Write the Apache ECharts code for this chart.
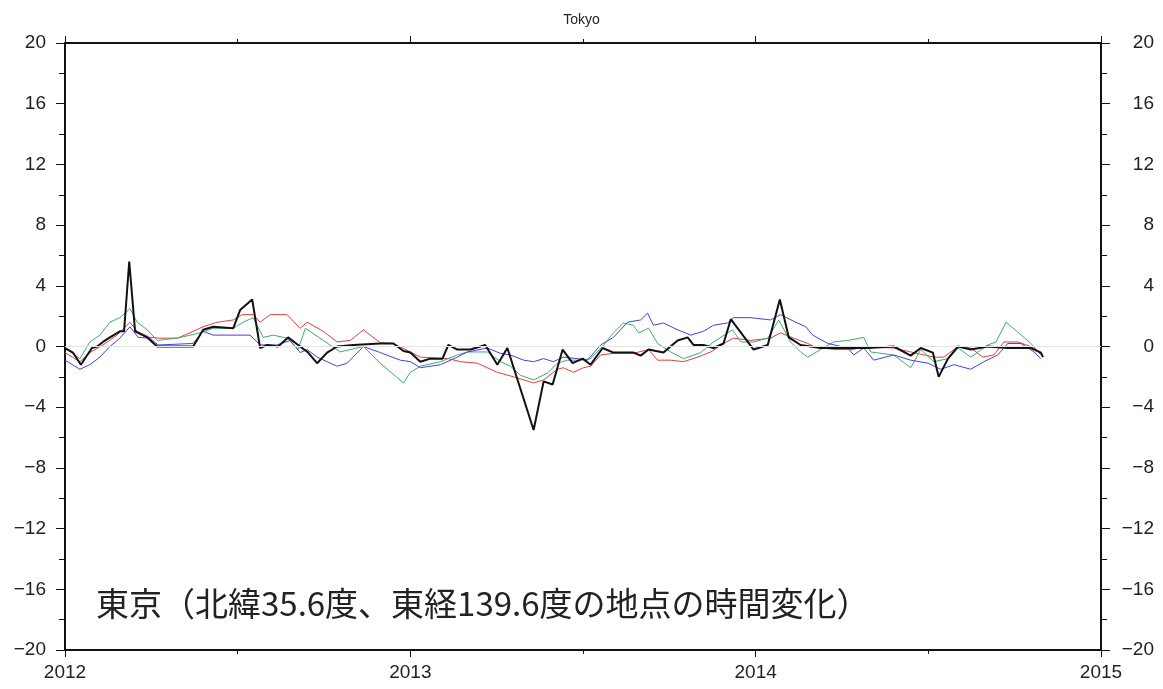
<!DOCTYPE html>
<html>
<head>
<meta charset="utf-8">
<title>Tokyo</title>
<script src="https://cdn.jsdelivr.net/npm/echarts@6/dist/echarts.min.js"></script>
<style>
  html, body { margin: 0; padding: 0; background: #fff; }
  #chart { width: 1163px; height: 689px; }
</style>
</head>
<body>
<div id="chart"></div>
<script>
'use strict';

// x = decimal year, y = value
var redPts = [[2012.000,-0.4],[2012.043,-1.0],[2012.072,-0.4],[2012.110,0.1],[2012.151,0.75],[2012.188,1.6],[2012.209,1.0],[2012.246,0.6],[2012.275,0.55],[2012.325,0.55],[2012.362,0.9],[2012.400,1.3],[2012.441,1.6],[2012.487,1.75],[2012.513,2.1],[2012.545,2.1],[2012.565,1.6],[2012.594,2.1],[2012.643,2.1],[2012.681,1.2],[2012.701,1.6],[2012.748,1.0],[2012.788,0.3],[2012.826,0.4],[2012.864,1.1],[2012.913,0.25],[2012.951,0.2],[2013.000,-0.36],[2013.029,-0.7],[2013.110,-0.8],[2013.145,-1.0],[2013.194,-1.1],[2013.252,-1.7],[2013.299,-2.0],[2013.357,-2.4],[2013.386,-2.2],[2013.426,-1.5],[2013.443,-1.4],[2013.472,-1.7],[2013.501,-1.4],[2013.522,-1.3],[2013.551,-0.56],[2013.588,-0.45],[2013.646,-0.45],[2013.690,-0.2],[2013.716,-0.9],[2013.754,-0.9],[2013.791,-1.0],[2013.832,-0.7],[2013.870,-0.36],[2013.907,0.2],[2013.936,0.55],[2013.986,0.4],[2014.043,0.55],[2014.072,0.9],[2014.110,0.55],[2014.151,0.2],[2014.168,0.0],[2014.226,-0.2],[2014.284,-0.2],[2014.304,0.0],[2014.400,-0.1],[2014.449,-0.36],[2014.516,-0.7],[2014.545,-0.7],[2014.586,0.0],[2014.623,-0.1],[2014.658,-0.7],[2014.690,-0.56],[2014.719,0.3],[2014.759,0.3],[2014.797,0.0],[2014.826,-0.4]];

var greenPts = [[2012.000,-0.1],[2012.043,-0.8],[2012.072,0.3],[2012.101,0.75],[2012.130,1.6],[2012.159,1.9],[2012.188,2.5],[2012.209,1.6],[2012.238,1.1],[2012.267,0.4],[2012.325,0.55],[2012.391,0.9],[2012.429,1.2],[2012.487,1.2],[2012.516,1.6],[2012.545,1.9],[2012.574,0.6],[2012.603,0.75],[2012.643,0.55],[2012.675,-0.2],[2012.696,1.2],[2012.748,0.4],[2012.797,-0.36],[2012.864,0.0],[2012.913,-1.1],[2012.980,-2.4],[2013.000,-1.7],[2013.029,-1.3],[2013.087,-1.0],[2013.136,-0.56],[2013.165,-0.36],[2013.223,-0.36],[2013.261,-1.0],[2013.290,-1.3],[2013.319,-1.9],[2013.357,-2.2],[2013.397,-1.75],[2013.426,-1.1],[2013.455,-0.9],[2013.493,-0.9],[2013.522,-0.8],[2013.557,0.0],[2013.588,0.9],[2013.617,1.55],[2013.646,1.4],[2013.661,0.9],[2013.690,1.2],[2013.716,0.2],[2013.754,-0.36],[2013.791,-0.8],[2013.841,-0.4],[2013.878,0.3],[2013.933,1.1],[2013.957,0.3],[2013.994,0.3],[2014.035,0.55],[2014.067,1.75],[2014.101,0.3],[2014.130,-0.36],[2014.151,-0.7],[2014.188,-0.2],[2014.226,0.3],[2014.267,0.4],[2014.313,0.6],[2014.333,-0.36],[2014.400,-0.56],[2014.449,-1.4],[2014.478,-0.2],[2014.516,-1.0],[2014.557,-0.8],[2014.586,-0.1],[2014.623,-0.7],[2014.672,0.1],[2014.696,0.3],[2014.725,1.6],[2014.759,0.95],[2014.797,0.2],[2014.826,-0.56]];

var bluePts = [[2012.000,-0.9],[2012.043,-1.5],[2012.072,-1.2],[2012.101,-0.7],[2012.130,0.0],[2012.159,0.55],[2012.188,1.3],[2012.212,0.6],[2012.246,0.55],[2012.270,0.1],[2012.371,0.2],[2012.400,1.0],[2012.429,0.75],[2012.536,0.75],[2012.565,0.1],[2012.614,0.1],[2012.652,0.4],[2012.681,-0.4],[2012.701,-0.2],[2012.730,-0.7],[2012.788,-1.3],[2012.817,-1.1],[2012.864,0.0],[2012.913,-0.4],[2012.971,-0.9],[2013.000,-1.0],[2013.029,-1.4],[2013.087,-1.2],[2013.136,-0.7],[2013.165,-0.36],[2013.223,-0.1],[2013.261,-0.45],[2013.290,-0.56],[2013.328,-0.9],[2013.357,-1.0],[2013.386,-0.8],[2013.414,-1.0],[2013.443,-0.7],[2013.484,-0.8],[2013.513,-0.9],[2013.551,0.1],[2013.588,0.6],[2013.629,1.6],[2013.667,1.75],[2013.687,2.2],[2013.704,1.4],[2013.733,1.55],[2013.774,1.1],[2013.812,0.75],[2013.849,1.0],[2013.878,1.4],[2013.919,1.55],[2013.936,1.9],[2013.986,1.9],[2014.043,1.75],[2014.072,2.1],[2014.116,1.6],[2014.145,1.3],[2014.165,0.75],[2014.209,0.2],[2014.267,-0.1],[2014.284,-0.56],[2014.313,-0.1],[2014.342,-0.9],[2014.400,-0.56],[2014.449,-0.9],[2014.499,-1.1],[2014.536,-1.5],[2014.574,-1.2],[2014.623,-1.5],[2014.661,-1.0],[2014.701,-0.56],[2014.730,0.2],[2014.768,0.2],[2014.806,-0.36],[2014.826,-0.8]];

var blackPts = [[2012.000,-0.1],[2012.023,-0.4],[2012.046,-1.2],[2012.078,-0.1],[2012.093,0.0],[2012.110,0.3],[2012.130,0.6],[2012.159,1.0],[2012.171,1.0],[2012.186,5.6],[2012.203,1.0],[2012.238,0.6],[2012.267,0.0],[2012.371,0.0],[2012.400,1.1],[2012.429,1.3],[2012.487,1.2],[2012.507,2.4],[2012.542,3.1],[2012.565,-0.1],[2012.586,0.1],[2012.617,0.0],[2012.646,0.6],[2012.681,0.0],[2012.704,-0.4],[2012.730,-1.1],[2012.759,-0.4],[2012.788,0.0],[2012.835,0.1],[2012.913,0.2],[2012.951,0.2],[2012.980,-0.3],[2013.000,-0.4],[2013.029,-1.0],[2013.058,-0.8],[2013.093,-0.8],[2013.110,0.1],[2013.136,-0.2],[2013.174,-0.2],[2013.217,0.1],[2013.252,-1.2],[2013.281,-0.1],[2013.357,-5.5],[2013.386,-2.3],[2013.412,-2.5],[2013.441,-0.2],[2013.470,-1.1],[2013.499,-0.8],[2013.522,-1.2],[2013.557,-0.1],[2013.588,-0.4],[2013.646,-0.4],[2013.667,-0.6],[2013.690,-0.2],[2013.733,-0.4],[2013.774,0.4],[2013.803,0.6],[2013.820,0.1],[2013.849,0.1],[2013.878,-0.1],[2013.907,0.2],[2013.928,1.8],[2013.994,-0.2],[2014.035,0.1],[2014.070,3.1],[2014.096,0.6],[2014.130,0.1],[2014.188,-0.1],[2014.246,-0.1],[2014.325,-0.1],[2014.400,0.0],[2014.449,-0.6],[2014.478,-0.1],[2014.513,-0.4],[2014.530,-2.0],[2014.557,-0.8],[2014.586,0.0],[2014.623,-0.2],[2014.672,0.0],[2014.730,-0.1],[2014.797,-0.1],[2014.826,-0.4],[2014.832,-0.7]];

var yearTicks = [2012, 2013, 2014, 2015];
var yTicks = [-20, -16, -12, -8, -4, 0, 4, 8, 12, 16, 20];

var chartTitle = 'Tokyo';
var note = '東京（北緯35.6度、東経139.6度の地点の時間変化）';

var baseFont = 'Liberation Sans, Arial, sans-serif';

function yLabel(v) {
  return String(v).replace('-', '\u2212');
}

var xCommon = {
  type: 'value',
  min: yearTicks[0],
  max: yearTicks[yearTicks.length - 1],
  interval: 1,
  axisLine: { show: true, onZero: false, lineStyle: { color: '#111', width: 2 } },
  axisTick: { show: true, inside: false, length: 7, lineStyle: { color: '#111', width: 1 } },
  minorTick: { show: true, splitNumber: 2, length: 4, lineStyle: { color: '#111', width: 1 } },
  splitLine: { show: false }
};

var yCommon = {
  type: 'value',
  min: yTicks[0],
  max: yTicks[yTicks.length - 1],
  interval: 4,
  axisLine: { show: true, onZero: false, lineStyle: { color: '#111', width: 2 } },
  axisTick: { show: true, inside: false, length: 9, lineStyle: { color: '#111', width: 1 } },
  minorTick: { show: true, splitNumber: 2, length: 6, lineStyle: { color: '#111', width: 1 } },
  splitLine: { show: false }
};

var option = {
  animation: false,
  backgroundColor: '#fff',
  title: {
    text: chartTitle,
    left: 'center',
    top: 8,
    textStyle: { fontSize: 14, fontWeight: 'normal', color: '#222', fontFamily: baseFont }
  },
  grid: { left: 65, right: 62, top: 43, bottom: 39 },
  xAxis: [
    Object.assign({}, xCommon, {
      position: 'bottom',
      axisLabel: {
        show: true, margin: 13, fontSize: 19, color: '#222', fontFamily: baseFont,
        formatter: function (v) { return String(v); }
      }
    }),
    Object.assign({}, xCommon, {
      position: 'top',
      axisLabel: { show: false }
    })
  ],
  yAxis: [
    Object.assign({}, yCommon, {
      position: 'left',
      axisLabel: { show: true, margin: 19, fontSize: 19, color: '#222', fontFamily: baseFont, formatter: yLabel }
    }),
    Object.assign({}, yCommon, {
      position: 'right',
      axisLabel: { show: true, margin: 53, align: 'right', fontSize: 19, color: '#222', fontFamily: baseFont, formatter: yLabel }
    })
  ],
  graphic: [{
    type: 'text',
    left: 96,
    top: 587,
    style: {
      text: note,
      fontSize: 33,
      fontFamily: 'Noto Sans CJK JP, sans-serif',
      fill: '#222'
    }
  }],
  series: [{
    name: 'red',
    type: 'line',
    data: redPts,
    showSymbol: false,
    lineStyle: { color: '#e0403c', width: 1 },
    markLine: {
      silent: true,
      symbol: 'none',
      label: { show: false },
      lineStyle: { color: '#e4e4e4', width: 1, type: 'solid' },
      data: [{ yAxis: 0 }]
    }
  }, {
    name: 'green',
    type: 'line',
    data: greenPts,
    showSymbol: false,
    lineStyle: { color: '#3aae72', width: 1 }
  }, {
    name: 'blue',
    type: 'line',
    data: bluePts,
    showSymbol: false,
    lineStyle: { color: '#4b3fdc', width: 1 }
  }, {
    name: 'black',
    type: 'line',
    data: blackPts,
    showSymbol: false,
    lineStyle: { color: '#111', width: 2 }
  }]
};

var myChart = echarts.init(document.getElementById('chart'));
myChart.setOption(option);
</script>
</body>
</html>
